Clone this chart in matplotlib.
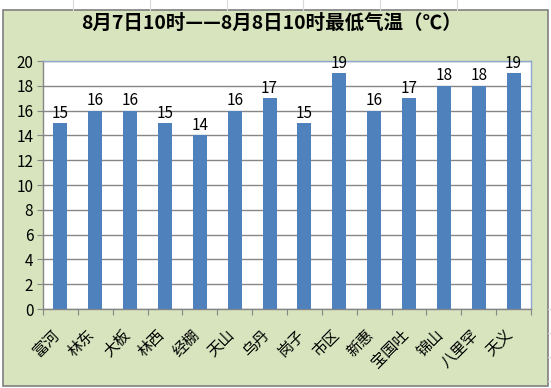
import matplotlib.pyplot as plt
from matplotlib.patches import Rectangle
from matplotlib.lines import Line2D

plt.rcParams["font.family"] = ["Noto Sans CJK SC", "DejaVu Sans"]

STATIONS = ["富河", "林东", "大板", "林西", "经棚", "天山", "乌丹",
            "岗子", "市区", "新惠", "宝国吐", "锦山", "八里罕", "天义"]
MIN_TEMP = [15, 16, 16, 15, 14, 16, 17, 15, 19, 16, 17, 18, 18, 19]
Y_TICKS = list(range(0, 21, 2))
TITLE = "8月7日10时——8月8日10时最低气温（℃）"

W, H = 551, 388
BAR_COLOR = "#4F81BD"
CHART_BG = "#D7E4BD"
GRID = "#868686"
FRAME = "#8FA8D0"

fig = plt.figure(figsize=(W / 100, H / 100), dpi=100)
fig.patch.set_facecolor("white")

# faint spreadsheet cell lines behind the chart object
for x in [73, 150, 227, 303, 380, 457]:
    fig.add_artist(Line2D([x / W, x / W], [1 - 10 / H, 1], color="#DADADA", lw=0.8))
for y in [309, 333, 357, 381]:
    fig.add_artist(Line2D([548 / W, 1], [1 - y / H, 1 - y / H], color="#DADADA", lw=0.8))

fig.add_artist(Rectangle((3 / W, 1 - 386 / H), 545 / W, 376 / H,
                         transform=fig.transFigure, facecolor=CHART_BG,
                         edgecolor="#7F7F7F", lw=1.2, zorder=0))

left, right, top, bottom = 43, 531, 61, 309
ax = fig.add_axes([left / W, 1 - bottom / H, (right - left) / W, (bottom - top) / H])
ax.set_facecolor("white")

xs = list(range(len(STATIONS)))
ax.bar(xs, MIN_TEMP, width=0.4, color=BAR_COLOR, zorder=3)
for x, v in zip(xs, MIN_TEMP):
    ax.text(x, v + 0.12, str(v), ha="center", va="bottom", fontsize=11,
            color="black", zorder=4)

ax.set_xlim(-0.5, len(STATIONS) - 0.5)
ax.set_ylim(0, 20)
ax.set_yticks(Y_TICKS)
ax.yaxis.grid(True, color=GRID, lw=1.0, zorder=1)
ax.tick_params(axis="y", length=4, color=GRID, labelsize=11, pad=3)

ax.set_xticks([x - 0.5 for x in xs] + [len(STATIONS) - 0.5])
ax.set_xticklabels([])
ax.tick_params(axis="x", length=4, color=GRID)
for x, name in zip(xs, STATIONS):
    ax.text(x - 0.25, -1.4, name, rotation=45, rotation_mode="anchor",
            ha="right", va="top", fontsize=11, color="black")

for side in ["left", "bottom"]:
    ax.spines[side].set_color(GRID)
    ax.spines[side].set_linewidth(1.0)
for side in ["top", "right"]:
    ax.spines[side].set_color(FRAME)
    ax.spines[side].set_linewidth(1.0)

fig.text(271 / W, 1 - 23 / H, TITLE, ha="center", va="center", fontsize=14,
         fontweight="bold", color="black")

fig.savefig("out.png", dpi=100)
